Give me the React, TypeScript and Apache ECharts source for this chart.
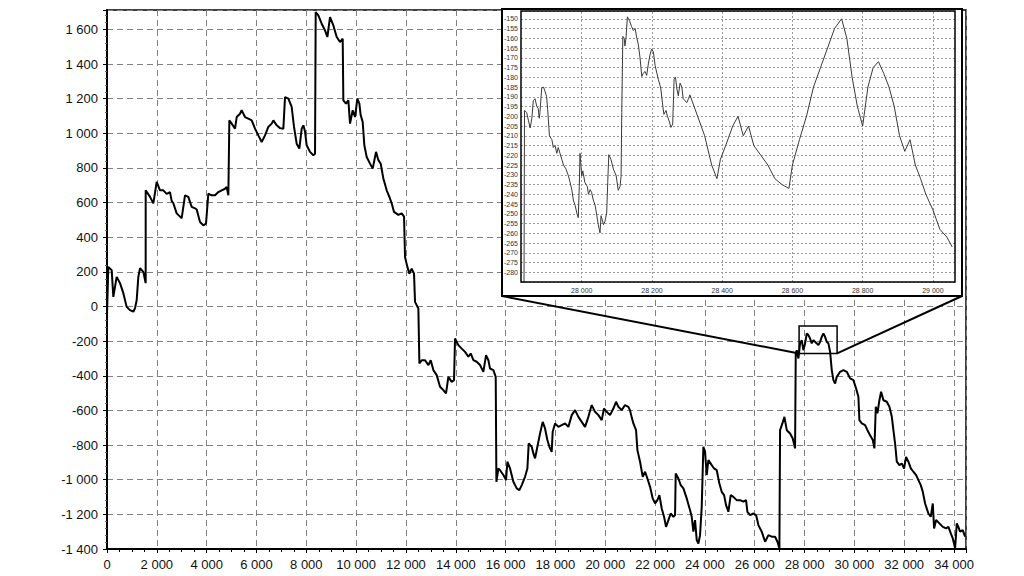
import React, { useEffect, useRef } from "react";
import * as echarts from "echarts";

// Main series: [x, value]
const mainSeries: [number, number][] = [
  [0, -50], [52, 229], [188, 210], [254, 56], [388, 171], [522, 135], [656, 77], [789, -2], [923, -21], [1057, -30],
  [1124, -10], [1191, 36], [1258, 171], [1325, 221], [1458, 200], [1552, 135], [1553, 671], [1726, 633], [1860, 596],
  [1994, 719], [2128, 671], [2261, 671], [2395, 650], [2529, 660], [2596, 610], [2663, 596], [2797, 538], [2931, 519],
  [2998, 510], [3131, 642], [3265, 633], [3399, 575], [3533, 567], [3600, 560], [3733, 488], [3867, 469], [3974, 478],
  [4068, 652], [4202, 642], [4336, 642], [4469, 661], [4603, 671], [4737, 680], [4804, 690], [4871, 642], [4911, 1075],
  [5005, 1056], [5139, 1027], [5206, 1094], [5339, 1113], [5406, 1133], [5540, 1094], [5674, 1085], [5808, 1075],
  [5941, 1027], [6075, 988], [6209, 950], [6343, 988], [6476, 1037], [6610, 1056], [6677, 1075], [6811, 1046],
  [6945, 1030], [7079, 1027], [7146, 1209], [7280, 1200], [7413, 1152], [7507, 1037], [7614, 940], [7721, 912],
  [7815, 1027], [7882, 1046], [7949, 1010], [8015, 931], [8149, 893], [8283, 873], [8350, 882], [8377, 1700],
  [8484, 1681], [8618, 1633], [8752, 1594], [8845, 1556], [8952, 1671], [9086, 1623], [9220, 1556], [9354, 1527],
  [9461, 1546], [9487, 1190], [9594, 1171], [9688, 1190], [9755, 1056], [9862, 1133], [9956, 1094], [10049, 1200],
  [10130, 1171], [10183, 1104], [10263, 1066], [10330, 931], [10424, 863], [10558, 825], [10665, 796], [10799, 893],
  [10892, 845], [10986, 825], [11093, 739], [11227, 671], [11334, 633], [11427, 596], [11521, 546], [11695, 529],
  [11829, 538], [11923, 519], [11963, 286], [12056, 229], [12137, 190], [12230, 219], [12324, 190], [12364, 27],
  [12498, -11], [12539, -329], [12633, -310], [12766, -310], [12900, -338], [12994, -310], [13100, -367], [13234, -396],
  [13368, -463], [13501, -483], [13609, -502], [13702, -406], [13836, -435], [13930, -425], [13970, -185], [14104, -223],
  [14238, -243], [14372, -262], [14505, -290], [14599, -271], [14706, -310], [14840, -319], [14974, -338], [15107, -377],
  [15215, -281], [15308, -310], [15375, -358], [15509, -367], [15603, -406], [15630, -1012], [15710, -935], [15777, -945],
  [15911, -973], [16018, -1002], [16071, -896], [16178, -935], [16312, -1012], [16446, -1050], [16553, -1060],
  [16647, -1031], [16780, -983], [16874, -935], [16928, -790], [17048, -810], [17115, -848], [17182, -877], [17275, -810],
  [17382, -733], [17489, -666], [17583, -704], [17676, -771], [17757, -810], [17850, -839], [17890, -723], [17985, -675],
  [18118, -695], [18252, -685], [18386, -675], [18520, -695], [18654, -627], [18788, -598], [18921, -637], [19055, -666],
  [19189, -695], [19322, -637], [19456, -569], [19590, -608], [19724, -627], [19858, -656], [19951, -589], [20058, -608],
  [20192, -627], [20326, -589], [20433, -550], [20526, -579], [20660, -598], [20794, -569], [20928, -579], [20995, -600],
  [21062, -640], [21129, -675], [21236, -714], [21290, -829], [21397, -896], [21504, -983], [21598, -954], [21691, -993],
  [21798, -1041], [21905, -1108], [21999, -1137], [22092, -1118], [22173, -1089], [22266, -1166], [22360, -1214],
  [22440, -1272], [22534, -1233], [22628, -1195], [22734, -1214], [22802, -1204], [22828, -964], [22935, -993],
  [23029, -1031], [23136, -1050], [23270, -1108], [23404, -1176], [23471, -1214], [23537, -1300], [23604, -1233],
  [23671, -1348], [23738, -1368], [23805, -1320], [23872, -1156], [23938, -810], [24006, -839], [24073, -973],
  [24139, -887], [24273, -916], [24367, -935], [24474, -945], [24581, -1022], [24675, -1070], [24769, -1089],
  [24849, -1147], [24942, -1185], [25036, -1089], [25143, -1099], [25277, -1118], [25411, -1118], [25545, -1127],
  [25652, -1118], [25705, -1185], [25813, -1204], [25946, -1195], [26054, -1204], [26147, -1262], [26281, -1300],
  [26415, -1358], [26549, -1320], [26682, -1329], [26816, -1329], [26910, -1358], [26990, -1396], [27017, -714],
  [27111, -675], [27191, -637], [27286, -714], [27419, -733], [27526, -762], [27619, -819], [27646, -271], [27686, -252],
  [27753, -300], [27820, -213], [27887, -194], [27953, -252], [28021, -213], [28088, -156], [28154, -165], [28222, -185],
  [28288, -213], [28355, -194], [28422, -204], [28489, -213], [28556, -223], [28623, -204], [28690, -175], [28756, -156],
  [28824, -175], [28890, -204], [28957, -213], [29025, -262], [29092, -367], [29158, -425], [29226, -444], [29293, -406],
  [29426, -377], [29560, -367], [29694, -377], [29827, -415], [29961, -425], [30068, -473], [30161, -521], [30201, -656],
  [30297, -675], [30430, -685], [30524, -714], [30630, -743], [30738, -771], [30803, -819], [30860, -579], [30924, -617],
  [31005, -541], [31072, -492], [31165, -541], [31300, -550], [31406, -579], [31502, -637], [31566, -714], [31634, -791],
  [31702, -896], [31806, -916], [31902, -906], [31995, -935], [32075, -868], [32168, -896], [32265, -935], [32369, -954],
  [32477, -973], [32570, -1002], [32665, -1031], [32746, -1070], [32838, -1137], [32971, -1195], [33067, -1214],
  [33147, -1137], [33199, -1281], [33280, -1233], [33413, -1252], [33549, -1272], [33681, -1281], [33774, -1272],
  [33870, -1310], [33950, -1339], [34043, -1396], [34110, -1252], [34174, -1272], [34242, -1300], [34350, -1291],
  [34444, -1329],
];

// Inset (zoomed) series: [x, value]
const insetSeries: [number, number][] = [
  [27835, -320], [27837, -197], [27843, -198], [27848, -202], [27853, -206], [27858, -201], [27862, -192], [27867, -191],
  [27872, -195], [27876, -196], [27879, -201], [27881, -198], [27886, -185.5], [27891, -185], [27895, -187], [27900, -190],
  [27903, -196.6], [27908, -210], [27915, -212], [27919, -216], [27924, -215], [27929, -219], [27933, -216], [27938, -219],
  [27943, -222], [27948, -225], [27955, -227], [27962, -230.5], [27967, -234], [27972, -238], [27976, -243],
  [27981, -245.6], [27986, -249.6], [27990, -252], [27993, -236], [27995, -219], [28000, -230.5], [28003, -228],
  [28009, -234], [28016, -236], [28019, -240], [28024, -237.6], [28028, -239], [28033, -243], [28038, -245.6],
  [28043, -251], [28047, -255.6], [28052, -259.8], [28055, -251], [28062, -255.6], [28066, -254], [28071, -249.6],
  [28074, -234], [28077, -219.7], [28083, -222], [28090, -227], [28098, -230.5], [28104, -238], [28109, -236],
  [28112, -231], [28114, -198], [28117, -159], [28121, -160], [28123, -164], [28126, -160], [28130, -149], [28136, -151],
  [28142, -154], [28147, -156], [28152, -155], [28157, -160], [28161, -163], [28166, -170], [28171, -179.6],
  [28175, -178], [28180, -177], [28185, -179], [28190, -172.7], [28195, -168], [28199, -165.6], [28204, -167],
  [28209, -174], [28214, -178], [28218, -181], [28225, -185.5], [28231, -195], [28234, -199], [28240, -197],
  [28244, -200], [28250, -203], [28254, -205.7], [28259, -204], [28263, -181], [28267, -180], [28271, -186],
  [28275, -189.5], [28280, -183], [28285, -185], [28289, -191], [28294, -192], [28299, -193], [28304, -191],
  [28308, -189], [28330, -200], [28350, -210], [28370, -225], [28385, -232], [28395, -222], [28410, -215], [28430, -205],
  [28445, -200], [28460, -210], [28475, -205], [28490, -215], [28510, -220], [28530, -225], [28550, -232], [28570, -235],
  [28590, -237], [28600, -225], [28620, -212], [28640, -200], [28660, -185], [28680, -175], [28700, -165], [28720, -155],
  [28740, -150], [28755, -160], [28770, -180], [28785, -195], [28800, -205], [28815, -185], [28830, -175], [28845, -172],
  [28860, -178], [28875, -185], [28890, -195], [28905, -210], [28920, -218], [28935, -212], [28950, -225], [28965, -232],
  [28980, -240], [29000, -248], [29020, -258], [29040, -262], [29055, -267],
];

// Zoom rectangle on the main chart: [x, value] corners
const zoomBox: [number, number][] = [[27780, -113], [29306, -271]];
const insetXTicks = [28000, 28200, 28400, 28600, 28800, 29000];

const fmt = (v: number) => {
  const s = Math.abs(Math.round(v)).toString().replace(/\B(?=(\d{3})+(?!\d))/g, " ");
  return (v < 0 ? "-" : "") + s;
};

const MAIN = { left: 107, top: 10, width: 859, height: 539 };
const FRAME = { x: 502, y: 9, width: 460, height: 287 };
const INSET = { left: 521, top: 11, width: 434, height: 271 };

export default function App() {
  const ref = useRef<HTMLDivElement>(null);
  useEffect(() => {
    if (!ref.current) return;
    const chart = echarts.init(ref.current, undefined, { renderer: "svg" });
    const font = "Arial, 'Liberation Sans', sans-serif";
    const dotted = { color: "#9a9a9a", type: [2, 2] as number[], width: 1 };
    chart.setOption({
      animation: false,
      backgroundColor: "#fff",
      grid: [
        { ...MAIN, show: true, borderColor: "#000", borderWidth: 1.5, containLabel: false },
        { ...INSET, containLabel: false },
      ],
      xAxis: [
        {
          type: "value", gridIndex: 0, min: 0, max: 34480, interval: 2000,
          axisLine: { show: true, onZero: false, lineStyle: { color: "#000", width: 2 } },
          axisTick: { show: true, length: 4, lineStyle: { color: "#000" } },
          minorTick: { show: true, splitNumber: 4, length: 3, lineStyle: { color: "#000" } },
          axisLabel: { formatter: fmt, fontSize: 13, color: "#111", margin: 9, fontFamily: font, showMaxLabel: false },
          splitLine: { show: true, lineStyle: { color: "#808080", type: [6, 4], width: 1 } },
        },
        {
          type: "value", gridIndex: 1, min: 27827, max: 29063, z: 5,
          axisLine: { show: false },
          axisTick: { show: false },
          axisLabel: { customValues: insetXTicks, formatter: fmt, fontSize: 7, color: "#333", margin: 5, fontFamily: font },
          splitLine: { show: false },
        },
      ],
      yAxis: [
        {
          type: "value", gridIndex: 0, min: -1400, max: 1712, interval: 200,
          axisLine: { show: true, onZero: false, lineStyle: { color: "#000", width: 2 } },
          axisTick: { show: true, length: 4, lineStyle: { color: "#000" } },
          minorTick: { show: true, splitNumber: 5, length: 2, lineStyle: { color: "#666" } },
          axisLabel: { formatter: fmt, fontSize: 13, color: "#111", margin: 9, fontFamily: font, showMaxLabel: false },
          splitLine: { show: true, lineStyle: { color: "#808080", type: [6, 4], width: 1 } },
        },
        {
          type: "value", gridIndex: 1, min: -285, max: -146, interval: 5, z: 5,
          axisLine: { show: false },
          axisTick: { show: false },
          axisLabel: { formatter: (v: number) => String(v), fontSize: 7, color: "#333", margin: 3, fontFamily: font, showMinLabel: false, showMaxLabel: false },
          splitLine: { show: true, lineStyle: dotted },
        },
      ],
      series: [
        {
          type: "line", xAxisIndex: 0, yAxisIndex: 0, data: mainSeries, showSymbol: false, symbol: "none",
          lineStyle: { color: "#000", width: 2 }, z: 2,
          markArea: {
            silent: true,
            itemStyle: { color: "rgba(0,0,0,0)", borderColor: "#000", borderWidth: 1.5 },
            data: [[{ coord: zoomBox[0] }, { coord: zoomBox[1] }]],
          },
        },
        {
          type: "line", xAxisIndex: 1, yAxisIndex: 1, data: insetSeries, showSymbol: false, symbol: "none",
          lineStyle: { color: "#3a3a3a", width: 1 }, z: 6, clip: true,
          markLine: {
            silent: true, symbol: "none", label: { show: false },
            lineStyle: dotted,
            data: insetXTicks.map((v) => ({ xAxis: v })),
          },
        },
      ],
    });

    const bl = chart.convertToPixel({ xAxisIndex: 0, yAxisIndex: 0 }, [zoomBox[0][0], zoomBox[1][1]]) as number[];
    const br = chart.convertToPixel({ xAxisIndex: 0, yAxisIndex: 0 }, [zoomBox[1][0], zoomBox[1][1]]) as number[];
    const fb = FRAME.y + FRAME.height;
    chart.setOption({
      graphic: [
        { id: "frame", type: "rect", z: 3, shape: { ...FRAME }, style: { fill: "#fff", stroke: "#000", lineWidth: 2 } },
        { id: "inner", type: "rect", z: 10, shape: { x: INSET.left, y: INSET.top, width: INSET.width, height: INSET.height }, style: { fill: "none", stroke: "#000", lineWidth: 1.5 } },
        { id: "l1", type: "line", z: 10, shape: { x1: FRAME.x, y1: fb, x2: bl[0], y2: bl[1] }, style: { stroke: "#000", lineWidth: 2 } },
        { id: "l2", type: "line", z: 10, shape: { x1: br[0], y1: br[1], x2: FRAME.x + FRAME.width, y2: fb }, style: { stroke: "#000", lineWidth: 2 } },
      ],
    });
    return () => chart.dispose();
  }, []);
  return <div ref={ref} style={{ width: 1024, height: 576, position: "absolute", left: 0, top: 0 }} />;
}
